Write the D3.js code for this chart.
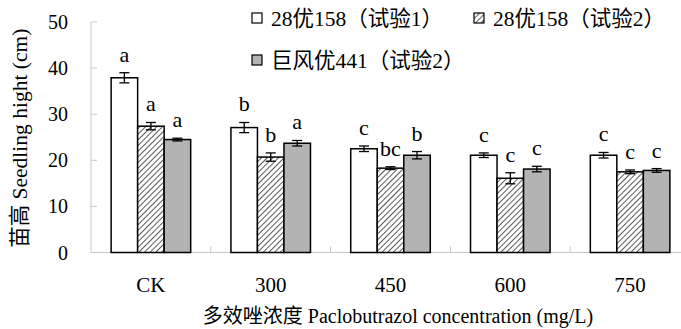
<!DOCTYPE html>
<html>
<head>
<meta charset="utf-8">
<script src="https://cdn.jsdelivr.net/npm/d3@7"></script>
<style>
  body { margin: 0; background: #fff; }
  svg { display: block; }
  text { font-family: "Liberation Serif", "Noto Sans CJK SC", serif; fill: #000; }
</style>
</head>
<body>
<div id="chart"></div>
<script>
const categories = ['CK', '300', '450', '600', '750'];
const seriesNames = ['28优158（试验1）', '28优158（试验2）', '巨风优441（试验2）'];
const trial1 = [37.9, 27.1, 22.5, 21.1, 21.1];
const trial2 = [27.4, 20.7, 18.3, 16.1, 17.5];
const jufeng = [24.5, 23.7, 21.1, 18.1, 17.8];
const err1 = [1.1, 1.1, 0.6, 0.5, 0.6];
const err2 = [0.8, 0.9, 0.3, 1.2, 0.4];
const err3 = [0.3, 0.6, 0.8, 0.6, 0.4];
const letters1 = ['a', 'b', 'c', 'c', 'c'];
const letters2 = ['a', 'b', 'bc', 'c', 'c'];
const letters3 = ['a', 'a', 'b', 'c', 'c'];
const yTicks = [0, 10, 20, 30, 40, 50];

const width = 681, height = 329;
const margin = { left: 91, right: -9, top: 22, bottom: 77 };

const svg = d3.select('#chart').append('svg')
    .attr('width', width)
    .attr('height', height);

const defs = svg.append('defs');
const pat = defs.append('pattern')
    .attr('id', 'hatch')
    .attr('patternUnits', 'userSpaceOnUse')
    .attr('width', 4)
    .attr('height', 4)
    .attr('patternTransform', 'rotate(45)');
pat.append('rect').attr('width', 4).attr('height', 4).attr('fill', '#fff');
pat.append('line')
    .attr('x1', 0).attr('y1', 0).attr('x2', 0).attr('y2', 4)
    .attr('stroke', '#000').attr('stroke-width', 1.3);

const fills = ['#fff', 'url(#hatch)', '#b3b3b3'];

const x = d3.scaleBand()
    .domain(categories)
    .range([margin.left, width - margin.right]);

const x1 = d3.scaleBand()
    .domain(d3.range(3))
    .range([0, x.bandwidth() * 0.664]);

const y = d3.scaleLinear()
    .domain([0, 50])
    .range([height - margin.bottom + 0.5, margin.top]);

// axes
const axisColor = '#c8c8c8';
svg.append('line')
    .attr('x1', margin.left).attr('x2', margin.left)
    .attr('y1', y(50)).attr('y2', y(0))
    .attr('stroke', axisColor);
svg.append('line')
    .attr('x1', margin.left).attr('x2', width)
    .attr('y1', y(0)).attr('y2', y(0))
    .attr('stroke', axisColor);

svg.append('g').selectAll('line')
    .data(yTicks)
    .join('line')
    .attr('x1', margin.left).attr('x2', margin.left + 6)
    .attr('y1', d => y(d)).attr('y2', d => y(d))
    .attr('stroke', axisColor);

svg.append('g').selectAll('text')
    .data(yTicks)
    .join('text')
    .attr('x', margin.left - 23)
    .attr('y', d => y(d))
    .attr('dy', '0.35em')
    .attr('text-anchor', 'end')
    .attr('font-size', 20)
    .text(d => d);

svg.append('g').selectAll('line')
    .data(categories.slice(1))
    .join('line')
    .attr('x1', d => x(d)).attr('x2', d => x(d))
    .attr('y1', y(0)).attr('y2', y(0) - 6)
    .attr('stroke', axisColor);

svg.append('g').selectAll('text')
    .data(categories)
    .join('text')
    .attr('x', d => x(d) + x.bandwidth() / 2)
    .attr('y', 292)
    .attr('text-anchor', 'middle')
    .attr('font-size', 21)
    .text(d => d);

// bars
const series = [trial1, trial2, jufeng];
const errs = [err1, err2, err3];
const letters = [letters1, letters2, letters3];
const groupOffset = (x.bandwidth() - x.bandwidth() * 0.664) / 2;

const rows = [];
series.forEach((vals, s) => {
    vals.forEach((v, i) => {
        rows.push({ s, cat: categories[i], v, e: errs[s][i], letter: letters[s][i] });
    });
});

const bx = d => x(d.cat) + groupOffset + x1(d.s);

svg.append('g').selectAll('rect')
    .data(rows)
    .join('rect')
    .attr('x', bx)
    .attr('y', d => y(d.v))
    .attr('width', x1.bandwidth())
    .attr('height', d => y(0) - y(d.v))
    .attr('fill', d => fills[d.s])
    .attr('stroke', '#000')
    .attr('stroke-width', 1.5);

const eb = svg.append('g').selectAll('g')
    .data(rows)
    .join('g')
    .attr('stroke', '#000')
    .attr('stroke-width', 1.3);
eb.append('line')
    .attr('x1', d => bx(d) + x1.bandwidth() / 2)
    .attr('x2', d => bx(d) + x1.bandwidth() / 2)
    .attr('y1', d => y(d.v + d.e)).attr('y2', d => y(d.v - d.e));
eb.append('line')
    .attr('x1', d => bx(d) + x1.bandwidth() / 2 - 5)
    .attr('x2', d => bx(d) + x1.bandwidth() / 2 + 5)
    .attr('y1', d => y(d.v + d.e)).attr('y2', d => y(d.v + d.e));
eb.append('line')
    .attr('x1', d => bx(d) + x1.bandwidth() / 2 - 5)
    .attr('x2', d => bx(d) + x1.bandwidth() / 2 + 5)
    .attr('y1', d => y(d.v - d.e)).attr('y2', d => y(d.v - d.e));

svg.append('g').selectAll('text')
    .data(rows)
    .join('text')
    .attr('x', d => bx(d) + x1.bandwidth() / 2)
    .attr('y', d => y(d.v + d.e) - 11)
    .attr('text-anchor', 'middle')
    .attr('font-size', 22)
    .text(d => d.letter);

// axis titles
svg.append('text')
    .attr('transform', `translate(27,${(y(0) + y(50)) / 2 + 1}) rotate(-90)`)
    .attr('text-anchor', 'middle')
    .attr('font-size', 21.5)
    .text('苗高 Seedling hight (cm)');

svg.append('text')
    .attr('x', 398)
    .attr('y', 323)
    .attr('text-anchor', 'middle')
    .attr('font-size', 20)
    .text('多效唑浓度 Paclobutrazol concentration (mg/L)');

// legend
const legendPos = [[252, 18], [474, 18], [252, 60]];
const leg = svg.append('g').selectAll('g')
    .data(seriesNames)
    .join('g')
    .attr('transform', (d, i) => `translate(${legendPos[i][0]},${legendPos[i][1]})`);
leg.append('rect')
    .attr('x', 0).attr('y', -5)
    .attr('width', 10).attr('height', 10)
    .attr('fill', (d, i) => fills[i])
    .attr('stroke', '#000')
    .attr('stroke-width', 1.2);
leg.append('text')
    .attr('x', 19)
    .attr('dy', '0.35em')
    .attr('font-size', 21.5)
    .text(d => d);
</script>
</body>
</html>
